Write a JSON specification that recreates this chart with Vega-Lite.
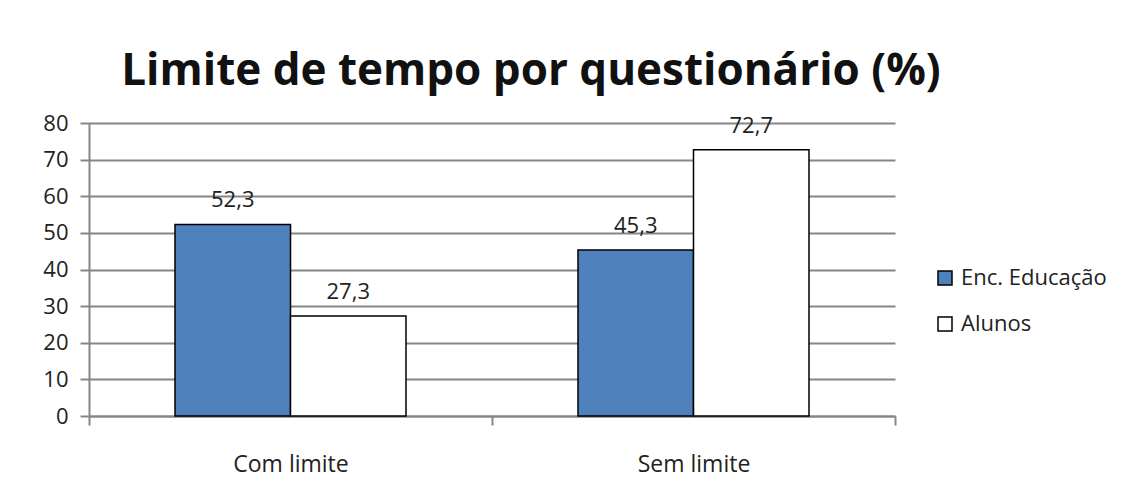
{
  "$schema": "https://vega.github.io/schema/vega-lite/v6.json",
  "autosize": {"type": "none"},
  "width": 806,
  "height": 293,
  "padding": {"left": 89, "top": 123, "right": 233, "bottom": 79},
  "background": "white",
  "config": {
    "font": "Open Sans",
    "locale": {"number": {"decimal": ",", "thousands": ".", "grouping": [3], "currency": ["", " €"]}},
    "view": {"stroke": null}
  },
  "title": {
    "text": "Limite de tempo por questionário (%)",
    "font": "Open Sans",
    "fontSize": 44,
    "fontWeight": "bold",
    "color": "#111111",
    "anchor": "middle",
    "dx": 39,
    "offset": 18
  },
  "data": {
    "values": [
      {"categoria": "Com limite", "grupo": "Enc. Educação", "valor": 52.3},
      {"categoria": "Com limite", "grupo": "Alunos", "valor": 27.3},
      {"categoria": "Sem limite", "grupo": "Enc. Educação", "valor": 45.3},
      {"categoria": "Sem limite", "grupo": "Alunos", "valor": 72.7}
    ]
  },
  "encoding": {
    "x": {
      "field": "categoria",
      "type": "nominal",
      "sort": ["Com limite", "Sem limite"],
      "scale": {"paddingInner": 0, "paddingOuter": 0},
      "axis": {
        "title": null,
        "labelAngle": 0,
        "labelFontSize": 23,
        "labelColor": "#222222",
        "labelPadding": 28,
        "domainColor": "#868686",
        "domainWidth": 2,
        "tickColor": "#868686",
        "tickWidth": 2,
        "tickSize": 9,
        "tickBand": "extent",
        "grid": false
      }
    },
    "xOffset": {"field": "grupo", "type": "nominal", "sort": ["Enc. Educação", "Alunos"], "scale": {"paddingInner": 0, "paddingOuter": 0.7446}},
    "y": {
      "field": "valor",
      "type": "quantitative",
      "scale": {"domain": [0, 80], "nice": false},
      "axis": {
        "title": null,
        "values": [0, 10, 20, 30, 40, 50, 60, 70, 80],
        "labelFontSize": 22,
        "labelColor": "#222222",
        "labelPadding": 12,
        "domainColor": "#868686",
        "domainWidth": 2,
        "tickColor": "#868686",
        "tickWidth": 2,
        "tickSize": 9,
        "gridColor": "#868686",
        "gridWidth": 2
      }
    }
  },
  "layer": [
    {
      "mark": {"type": "bar", "stroke": "#000000", "strokeWidth": 1.5},
      "encoding": {
        "color": {
          "field": "grupo",
          "type": "nominal",
          "sort": ["Enc. Educação", "Alunos"],
          "scale": {"domain": ["Enc. Educação", "Alunos"], "range": ["#4F81BD", "#FFFFFF"]},
          "legend": {
            "title": null,
            "orient": "none",
            "legendX": 845,
            "legendY": 144,
            "symbolType": "square",
            "symbolSize": 196,
            "symbolStrokeColor": "#000000",
            "symbolStrokeWidth": 1.5,
            "labelFontSize": 22,
            "labelColor": "#222222",
            "labelOffset": 5,
            "rowPadding": 24
          }
        }
      }
    },
    {
      "mark": {"type": "text", "baseline": "alphabetic", "dy": -17, "fontSize": 22, "color": "#222222"},
      "encoding": {
        "text": {"field": "valor", "type": "quantitative", "format": ".1f"}
      }
    }
  ]
}
